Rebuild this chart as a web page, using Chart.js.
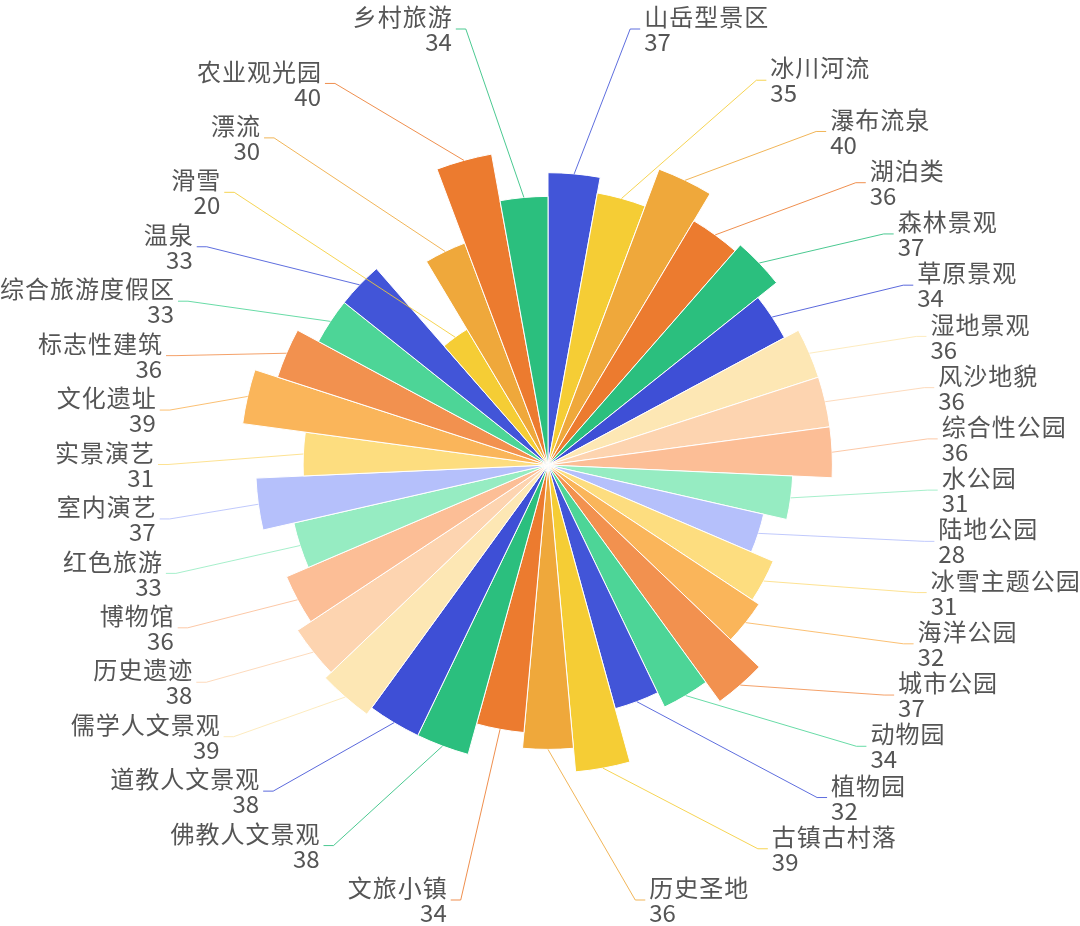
<!DOCTYPE html>
<html>
<head>
<meta charset="utf-8">
<script src="https://cdn.jsdelivr.net/npm/chart.js@4"></script>
<style>
  html, body { margin: 0; padding: 0; background: #ffffff; }
  #wrap { width: 1080px; height: 926px; position: relative; }
</style>
</head>
<body>
<div id="wrap"><canvas id="chart"></canvas></div>
<script>
// ---- data ----
const categories = ['山岳型景区','冰川河流','瀑布流泉','湖泊类','森林景观','草原景观','湿地景观','风沙地貌','综合性公园','水公园','陆地公园','冰雪主题公园','海洋公园','城市公园','动物园','植物园','古镇古村落','历史圣地','文旅小镇','佛教人文景观','道教人文景观','儒学人文景观','历史遗迹','博物馆','红色旅游','室内演艺','实景演艺','文化遗址','标志性建筑','综合旅游度假区','温泉','滑雪','漂流','农业观光园','乡村旅游'];
const values = [37,35,40,36,37,34,36,36,36,31,28,31,32,37,34,32,39,36,34,38,38,39,38,36,33,37,31,39,36,33,33,20,30,40,34];
const palette = ['#4255d8','#f5cd35','#efa83b','#ec7b2f','#2bbf7e','#3e4fd6','#fde7b4','#fdd4b0','#fcbe96','#96ecc2','#b5c0fb','#fddd7f','#fab55a','#f2914f','#4dd597'];

const colors = values.map((v, i) => palette[i % palette.length]);

// ---- label layout plugin ----
const roseLabels = {
  id: 'roseLabels',
  afterDatasetsDraw(chart) {
    const ctx = chart.ctx;
    const meta = chart.getDatasetMeta(0);
    const scale = chart.scales.r;
    const cx = scale.xCenter, cy = scale.yCenter;
    const items = meta.data.map((arc, i) => {
      const p = arc.getProps(['startAngle', 'endAngle', 'outerRadius'], true);
      const mid = (p.startAngle + p.endAngle) / 2;
      return {
        i,
        x0: cx + Math.cos(mid) * p.outerRadius,
        y0: cy + Math.sin(mid) * p.outerRadius,
        right: Math.cos(mid) > -1e-6
      };
    });
    const rightSide = items.filter(d => d.right);
    const leftSide = items.filter(d => !d.right).reverse();
    const topY = 29, bottomY = 900;
    const a = 380, b = 443, n = 2.2, len2 = 10, gap = 4;
    const place = (list, dir) => {
      const step = (bottomY - topY) / Math.max(1, list.length - 1);
      list.forEach((d, k) => {
        const y = topY + k * step;
        const t = Math.min(1, Math.abs((y - cy) / b));
        const dx = a * Math.pow(Math.max(0, 1 - Math.pow(t, n)), 1 / n);
        const ex = cx + dir * dx;
        const lx = ex + dir * len2;
        ctx.save();
        ctx.strokeStyle = colors[d.i];
        ctx.lineWidth = 1;
        ctx.globalAlpha = 0.85;
        ctx.beginPath();
        ctx.moveTo(d.x0, d.y0);
        ctx.lineTo(ex, y);
        ctx.lineTo(lx, y);
        ctx.stroke();
        ctx.restore();

        ctx.save();
        ctx.fillStyle = '#555555';
        ctx.textAlign = dir > 0 ? 'left' : 'right';
        ctx.textBaseline = 'middle';
        const tx = lx + dir * gap;
        ctx.font = '24px "Noto Sans CJK SC", "Noto Sans", sans-serif';
        try { ctx.letterSpacing = '1px'; } catch (e) {}
        ctx.fillText(categories[d.i], tx + (dir < 0 ? 1 : 0), y - 12);
        try { ctx.letterSpacing = '0px'; } catch (e) {}
        ctx.fillText(String(values[d.i]), tx, y + 13);
        ctx.restore();
      });
    };
    place(rightSide, 1);
    place(leftSide, -1);
  }
};

new Chart(document.getElementById('chart'), {
  type: 'polarArea',
  data: {
    labels: categories,
    datasets: [{
      data: values,
      backgroundColor: colors,
      borderColor: '#ffffff',
      borderWidth: 1
    }]
  },
  options: {
    responsive: true,
    maintainAspectRatio: false,
    animation: false,
    layout: { padding: { top: 149, bottom: 145, left: 16, right: 0 } },
    scales: {
      r: {
        display: false,
        min: 0,
        max: 40
      }
    },
    plugins: {
      legend: { display: false },
      tooltip: { enabled: false }
    }
  },
  plugins: [roseLabels]
});
</script>
</body>
</html>
